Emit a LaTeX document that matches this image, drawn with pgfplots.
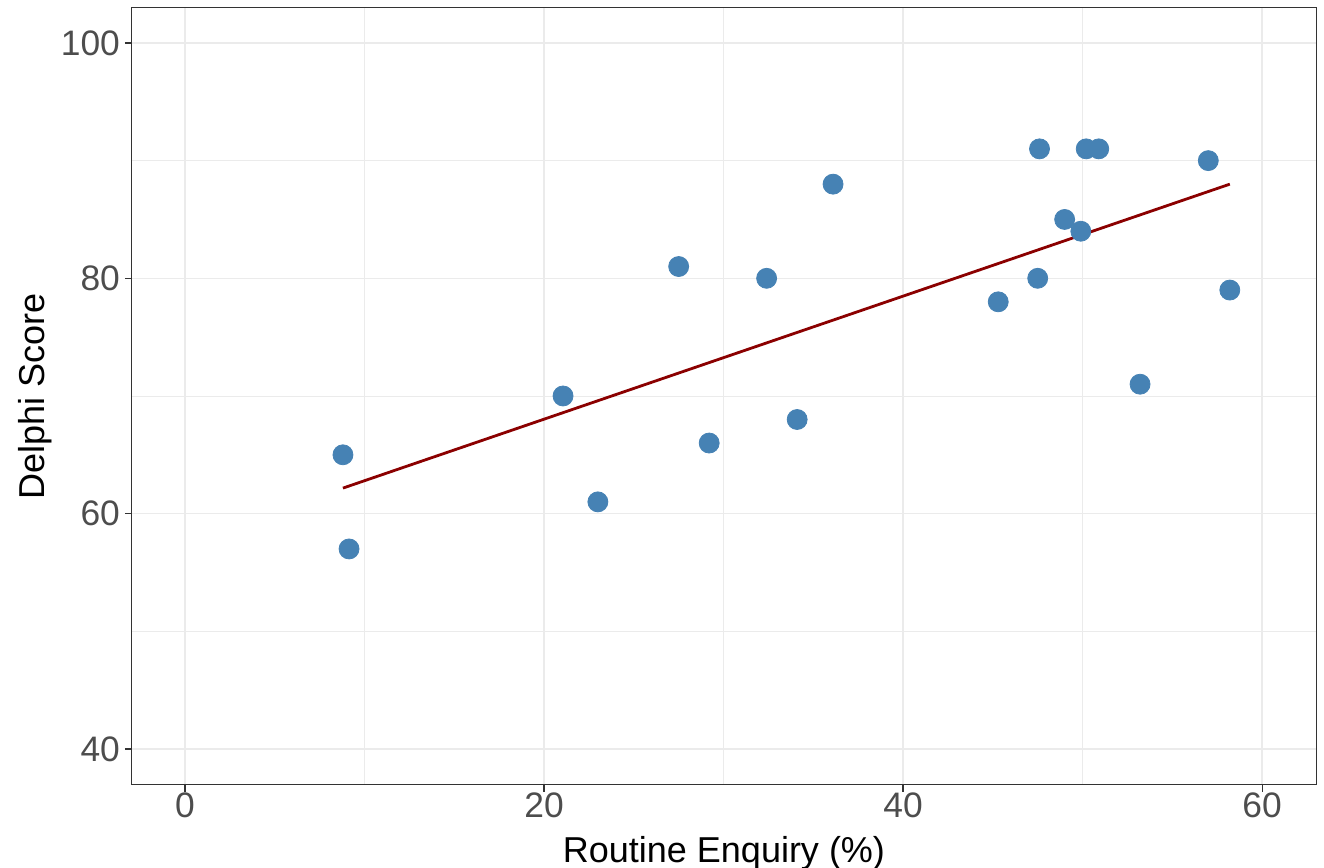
\documentclass[border=0pt]{standalone}
\usepackage{fontspec}
\setmainfont{Liberation Sans}
\usepackage{pgfplots}
\pgfplotsset{compat=1.18}
\definecolor{steel}{HTML}{4682B4}
\definecolor{dred}{HTML}{8B0000}
\definecolor{gridc}{HTML}{EBEBEB}
\definecolor{tickc}{HTML}{4D4D4D}
\definecolor{framec}{HTML}{333333}

\begin{document}
\begin{tikzpicture}
\begin{axis}[
  scale only axis,
  width=592pt, height=388.5pt,
  xmin=-2.95, xmax=63.0,
  ymin=36.94, ymax=102.97,
  xtick={0,20,40,60}, ytick={40,60,80,100},
  minor xtick={10,30,50}, minor ytick={50,70,90},
  grid=both,
  major grid style={gridc, line width=0.75pt},
  minor grid style={gridc, line width=0.4pt},
  axis line style={framec, line width=0.5pt},
  tick style={framec, line width=0.6pt},
  major tick length=3.5pt, minor tick length=0pt,
  tick align=outside,
  xtick pos=bottom, ytick pos=left,
  /pgf/number format/assume math mode=true,
  ticklabel style={font=\fontsize{17.7}{21}\selectfont, text=tickc},
  xticklabel style={yshift=3pt},
  yticklabel style={xshift=1pt},
  label style={font=\fontsize{18}{22}\selectfont, text=black},
  xlabel={Routine Enquiry (\%)},
  ylabel={Delphi Score},
  xlabel style={at={(axis description cs:0.5,-0.0991)}, anchor=base},
  ylabel style={at={(axis description cs:-0.0819,0.5)}, anchor=center, rotate=0},
]
\addplot[only marks, mark=*, mark size=5pt, mark options={fill=steel, draw=steel}]
coordinates {
  (8.80,65) (9.14,57) (21.06,70) (23.0,61) (27.5,81) (29.2,66)
  (32.4,80) (34.1,68) (36.1,88) (45.3,78) (47.6,91) (47.5,80)
  (49.0,85) (49.9,84) (50.2,91) (50.9,91) (53.2,71) (57.0,90)
  (58.2,79)
};
\addplot[dred, line width=1.4pt] coordinates {(8.80,62.17) (58.2,88.0)};
\end{axis}
\pgfresetboundingbox
\path (-66pt,-41.5pt) rectangle (596pt,392.5pt);
\end{tikzpicture}
\end{document}
